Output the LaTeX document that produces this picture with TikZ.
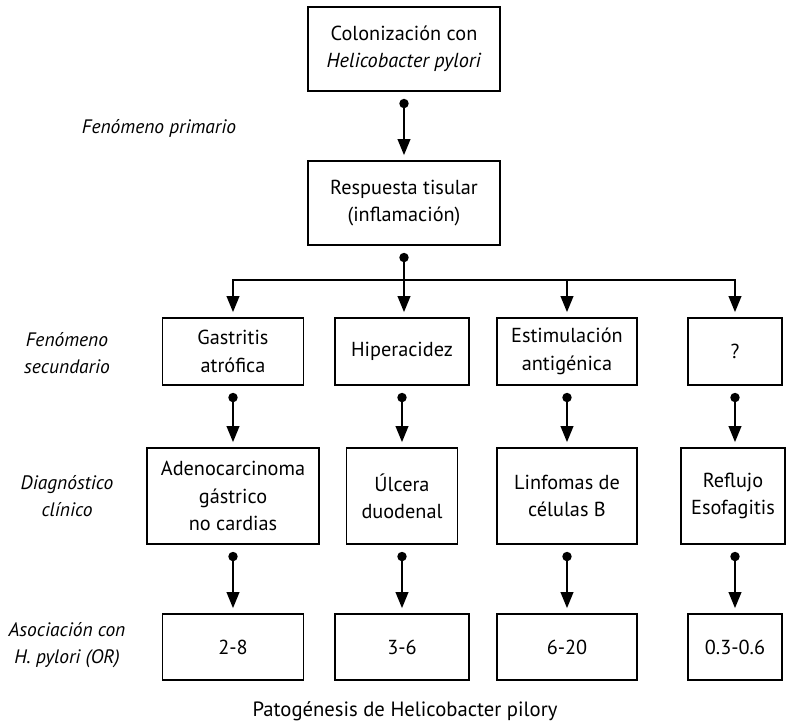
\documentclass[tikz,border=0pt]{standalone}
\usepackage{fontspec}
\setmainfont{PT Sans}
\usetikzlibrary{arrows.meta}
\begin{document}
\begin{tikzpicture}[x=0.75pt,y=-0.75pt,
  box/.style={draw, line width=0.8pt, inner sep=0pt, align=center,
    font=\fontsize{15.2}{20.5}\selectfont},
  lbl/.style={align=center, font=\fontsize{14.6}{20}\selectfont\itshape},
  conn/.style={line width=1.3pt, {Circle[length=7pt]}-{Triangle[length=12pt,width=9.5pt]},
    shorten <=5.5pt, shorten >=4pt},
  dotline/.style={line width=1.3pt, {Circle[length=7pt]}-, shorten <=5.5pt},
  branch/.style={line width=1.3pt, -{Triangle[length=12pt,width=9.5pt]}, shorten >=4pt}
]
\useasboundingbox (0,0) rectangle (786,723);

% row 1 and 2
\node[box, minimum width=144pt, minimum height=63pt] (top) at (404,49)
  {Colonización con\\\textit{Helicobacter pylori}};
\node[box, minimum width=144pt, minimum height=63pt] (resp) at (404,203)
  {Respuesta tisular\\(inflamación)};

% row 3
\node[box, minimum width=105.75pt, minimum height=50.25pt] (gast) at (233,351.5) {Gastritis\\atrófica};
\node[box, minimum width=100.5pt, minimum height=50.25pt] (hiper) at (402,351.5) {Hiperacidez};
\node[box, minimum width=105pt, minimum height=50.25pt] (estim) at (567,351.5) {Estimulación\\antigénica};
\node[box, minimum width=70.5pt, minimum height=50.25pt] (q) at (735,351.5) {?};

% row 4
\node[box, minimum width=129pt, minimum height=72pt] (adeno) at (233,496) {Adenocarcinoma\\gástrico\\no cardias};
\node[box, minimum width=83.25pt, minimum height=72pt] (ulc) at (402,496) {Úlcera\\duodenal};
\node[box, minimum width=105pt, minimum height=72pt] (linf) at (567,496) {Linfomas de\\células B};
\node[box, minimum width=78pt, minimum height=72pt] (refl) at (733,496) {Reflujo\\Esofagitis};

% row 5
\node[box, minimum width=105.75pt, minimum height=49.5pt] (b1) at (233,647) {2-8};
\node[box, minimum width=100.5pt, minimum height=49.5pt] (b2) at (402,647) {3-6};
\node[box, minimum width=105pt, minimum height=49.5pt] (b3) at (567,647) {6-20};
\node[box, minimum width=70.5pt, minimum height=49.5pt] (b4) at (735,647) {0.3-0.6};

% left labels
\node[lbl] (l1) at (159,128) {Fenómeno primario};
\node[lbl] (l2) at (67,353) {Fenómeno\\secundario};
\node[lbl] (l3) at (67,496) {Diagnóstico\\clínico};
\node[lbl] (l4) at (67,645) {Asociación con\\H. pylori (OR)};

% caption
\node[font=\fontsize{15.5}{18}\selectfont] (cap) at (405,711) {Patogénesis de Helicobacter pilory};

% connectors
\draw[conn] (top.south) -- (resp.north);
\coordinate (hub) at (404,280);
\draw[dotline] (resp.south) -- (hub);
\draw[branch] (hub) -| (gast.north);
\draw[branch] (hub) -- (hub |- hiper.north);
\draw[branch] (hub) -| (estim.north);
\draw[branch] (hub) -| (q.north);

\draw[conn] (gast.south) -- (adeno.north);
\draw[conn] (hiper.south) -- (ulc.north);
\draw[conn] (estim.south) -- (linf.north);
\draw[conn] (q.south) -- (q.south |- refl.north);

\draw[conn] (adeno.south) -- (b1.north);
\draw[conn] (ulc.south) -- (b2.north);
\draw[conn] (linf.south) -- (b3.north);
\draw[conn] (b4.north |- refl.south) -- (b4.north);
\end{tikzpicture}
\end{document}
